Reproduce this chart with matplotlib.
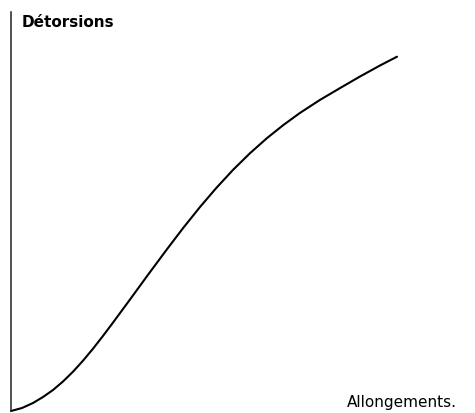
import matplotlib
matplotlib.use('Agg')
import matplotlib.pyplot as plt

# Courbe détorsions / allongements (unités arbitraires)
allongements = [0, 11, 22, 32, 42, 52, 62, 72, 82, 92, 102, 119, 137, 156, 172,
                189, 205, 222, 239, 256, 272, 289, 309, 329, 349, 369, 386]
detorsions = [0, 3, 8, 14, 21, 29.5, 39.3, 50.3, 62.3, 75.1, 88.4, 111.5, 136.2, 161.8, 182.8,
              204, 222.7, 241.1, 257.8, 272.9, 285.7, 298.1, 311.1, 322.9, 334.5, 345.5, 354.3]

titre_y = 'Détorsions'
titre_x = 'Allongements.'

fig = plt.figure(figsize=(4.75, 4.13), dpi=100)
ax = fig.add_axes([11 / 475, 2 / 413, 464 / 475, 399 / 413])

ax.plot(allongements, detorsions, color='black', linewidth=1.5, clip_on=False,
        solid_capstyle='round', solid_joinstyle='round')
ax.set_xlim(0, 464)
ax.set_ylim(0, 399)

# seulement l'axe vertical
for cote in ['top', 'right', 'bottom']:
    ax.spines[cote].set_visible(False)
ax.spines['left'].set_linewidth(1.1)
ax.spines['left'].set_color('#222222')
ax.set_xticks([])
ax.set_yticks([])

fig.text(22 / 475, (413 - 27) / 413, titre_y, fontsize=11, fontweight='bold',
         ha='left', va='baseline')
fig.text(347 / 475, (413 - 407) / 413, titre_x, fontsize=11,
         ha='left', va='baseline')

fig.savefig('out.png', dpi=100)
